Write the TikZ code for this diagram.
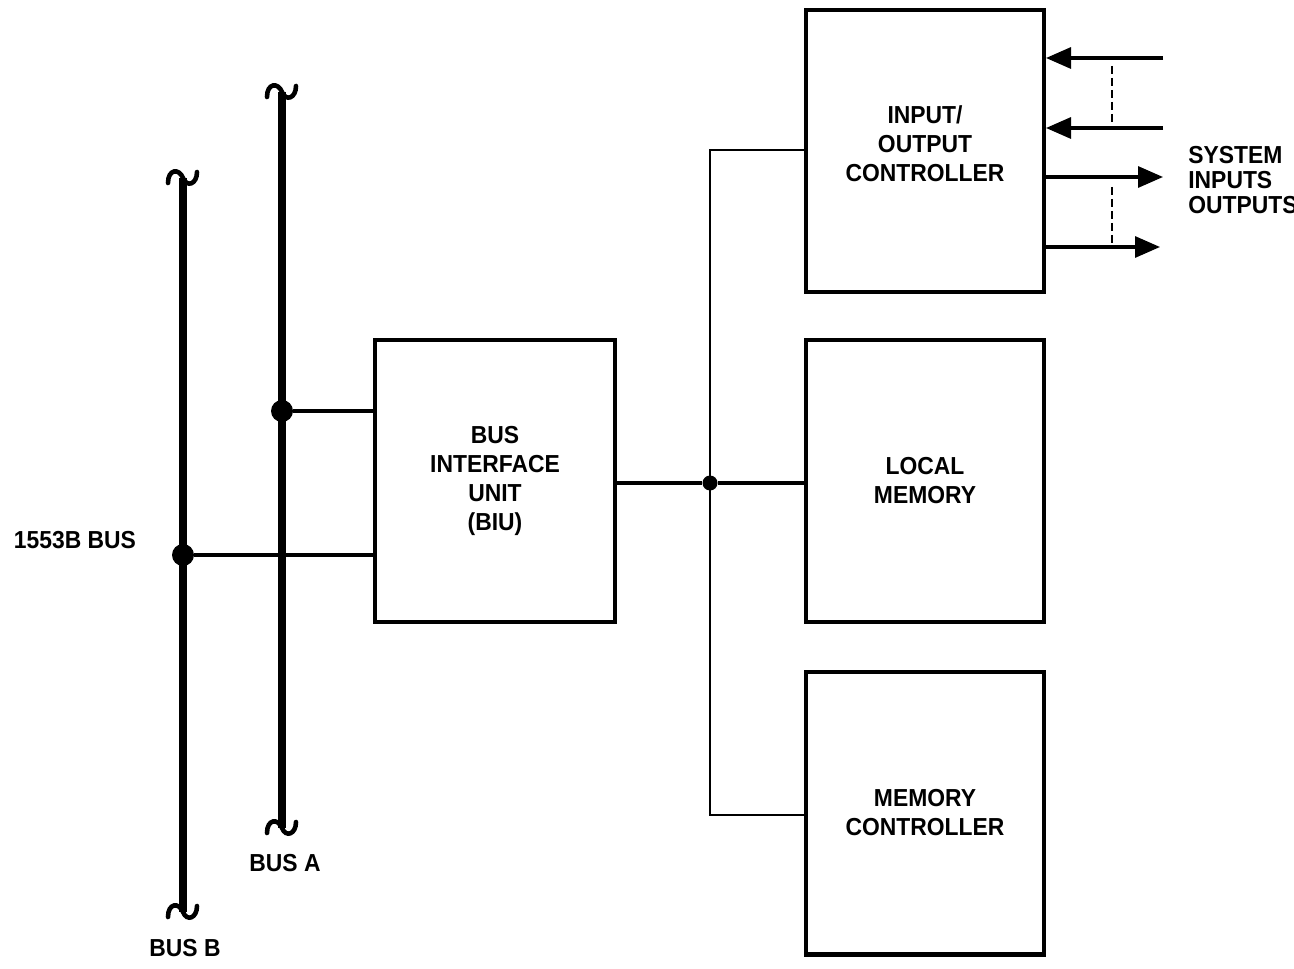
\documentclass[tikz,border=0pt]{standalone}
\usepackage{fontspec}
\setmainfont{Liberation Sans}[FakeStretch=0.93]
\usetikzlibrary{arrows.meta}

\begin{document}
\begin{tikzpicture}[x=0.02cm, y=-0.02cm,
  block/.style={draw, line width=2.3pt, minimum width=4.76cm, minimum height=5.66cm, align=center, inner sep=0pt, font=\bfseries\fontsize{14}{16.5}\selectfont},
  lbl/.style={font=\bfseries\fontsize{14}{14.2}\selectfont, align=left, inner sep=0pt},
  bus/.style={line width=4pt},
  squig/.style={line width=2.6pt, line cap=round},
  link/.style={line width=1.8pt},
  tap/.style={line width=1.2pt},
  busdot/.style={circle, fill, inner sep=0pt, minimum size=0.44cm},
  hubdot/.style={circle, fill, inner sep=0pt, minimum size=0.3cm},
  sig/.style={line width=1.8pt, -{Triangle[length=0.5cm, width=0.42cm]}}
]
\clip (0,0) rectangle (1294,969);

% blocks
\node[block] (ioc) at (925,151) {INPUT/\\OUTPUT\\CONTROLLER\\[-0.28cm]};
\node[block] (locmem) at (925,481) {LOCAL\\MEMORY};
\node[block] (memctl) at (925,813) {MEMORY\\CONTROLLER};
\node[block, minimum width=4.8cm] (biu) at (495,481) {BUS\\INTERFACE\\UNIT\\(BIU)};

% bus B
\coordinate (btop) at (183,178);
\coordinate (bbot) at (183,912);
\draw[bus] (btop) -- (bbot);
\draw[squig] ([shift={(-15,5)}]btop) .. controls +(0,-14) and +(-4,-10) .. (btop) .. controls +(4,10) and +(0,12) .. ([shift={(14,-6)}]btop);
\draw[squig] ([shift={(-15,5)}]bbot) .. controls +(0,-14) and +(-4,-10) .. (bbot) .. controls +(4,10) and +(0,12) .. ([shift={(14,-6)}]bbot);
\node[busdot] (bjoin) at (183,555) {};
\draw[link] (bjoin) -- (bjoin -| biu.west);

% bus A
\coordinate (atop) at (282,92);
\coordinate (abot) at (282,828);
\draw[bus] (atop) -- (abot);
\draw[squig] ([shift={(-15,5)}]atop) .. controls +(0,-14) and +(-4,-10) .. (atop) .. controls +(4,10) and +(0,12) .. ([shift={(14,-6)}]atop);
\draw[squig] ([shift={(-15,5)}]abot) .. controls +(0,-14) and +(-4,-10) .. (abot) .. controls +(4,10) and +(0,12) .. ([shift={(14,-6)}]abot);
\node[busdot] (ajoin) at (282,411) {};
\draw[link] (ajoin) -- (ajoin -| biu.west);

% local bus
\node[hubdot] (hub) at (710,483) {};
\draw[link] (biu.east |- hub) -- (hub) -- (hub -| locmem.west);
\coordinate (iotap) at (710,150);
\coordinate (mctap) at (710,815);
\draw[tap] (iotap -| ioc.west) -- (iotap) -- (mctap) -- (mctap -| memctl.west);

% system inputs / outputs
\coordinate (in1) at (1163,58);
\coordinate (in2) at (1163,128);
\coordinate (out1) at (1163,177);
\coordinate (out2) at (1160,247);
\draw[sig] (in1) -- (in1 -| ioc.east);
\draw[sig] (in2) -- (in2 -| ioc.east);
\draw[sig] (out1 -| ioc.east) -- (out1);
\draw[sig] (out2 -| ioc.east) -- (out2);
\draw[tap, dash pattern=on 0.16cm off 0.08cm] (1112,66) -- (1112,124);
\draw[tap, dash pattern=on 0.16cm off 0.08cm] (1112,187) -- (1112,243);

% labels
\node[lbl, anchor=west] (sysio) at (1188,180) {SYSTEM\\INPUTS\\OUTPUTS};
\node[lbl] (buslbl) at (75,540) {1553B BUS};
\node[lbl] (alabel) at (285,863) {BUS A};
\node[lbl] (blabel) at (185,948) {BUS B};
\end{tikzpicture}
\end{document}
